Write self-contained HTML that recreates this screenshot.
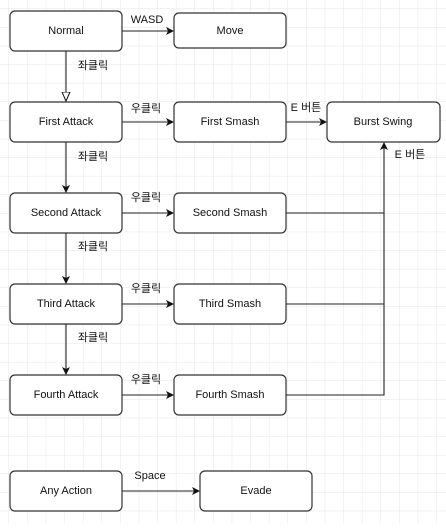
<!DOCTYPE html>
<html><head><meta charset="utf-8"><style>
body{margin:0;width:446px;height:523px;overflow:hidden;background:#fff;}
</style></head><body>
<svg width="446" height="523" xmlns="http://www.w3.org/2000/svg" font-family="Liberation Sans, Noto Sans CJK KR, sans-serif" font-size="11">
<defs>
<pattern id="g" width="18.6" height="18.6" patternUnits="userSpaceOnUse" x="9" y="9">
<path d="M18.6 0V18.6H0" fill="none" stroke="#e6e6e6" stroke-width="1"/>
</pattern>
<marker id="a" markerWidth="8" markerHeight="8" refX="7" refY="4" orient="auto" markerUnits="userSpaceOnUse"><path d="M0,0L8,4L0,8L2,4z" fill="#111"/></marker>
<marker id="o" markerWidth="10" markerHeight="10" refX="9" refY="5" orient="auto" markerUnits="userSpaceOnUse"><path d="M0,1L9,5L0,9z" fill="#fff" stroke="#111"/></marker>
</defs>
<rect width="446" height="523" fill="url(#g)"/>
<g fill="#fff" stroke="#333" stroke-width="1.2">
<rect x="10" y="11" width="112" height="40" rx="5"/>
<rect x="174" y="13" width="112" height="35" rx="5"/>
<rect x="10" y="102" width="112" height="40" rx="5"/>
<rect x="174" y="102" width="112" height="40" rx="5"/>
<rect x="327" y="102" width="113" height="40" rx="5"/>
<rect x="10" y="193" width="112" height="40" rx="5"/>
<rect x="174" y="193" width="112" height="40" rx="5"/>
<rect x="10" y="284" width="112" height="40" rx="5"/>
<rect x="174" y="284" width="112" height="40" rx="5"/>
<rect x="10" y="375" width="112" height="40" rx="5"/>
<rect x="174" y="375" width="112" height="40" rx="5"/>
<rect x="10" y="471" width="112" height="40" rx="5"/>
<rect x="200" y="471" width="112" height="40" rx="5"/>
</g>
<g stroke="#222" stroke-width="1.1" fill="none">
<path d="M122 31H173" marker-end="url(#a)"/>
<path d="M66 51V101" marker-end="url(#o)"/>
<path d="M122 122H173" marker-end="url(#a)"/>
<path d="M286 122H326" marker-end="url(#a)"/>
<path d="M66 142V192" marker-end="url(#a)"/>
<path d="M122 213H173" marker-end="url(#a)"/>
<path d="M66 233V283" marker-end="url(#a)"/>
<path d="M122 304H173" marker-end="url(#a)"/>
<path d="M66 324V374" marker-end="url(#a)"/>
<path d="M122 395H173" marker-end="url(#a)"/>
<path d="M122 491H199" marker-end="url(#a)"/>
<path d="M286 213H384M286 304H384M286 395H384V143" marker-end="url(#a)"/>
</g>
<g fill="#111" text-anchor="middle" dominant-baseline="central">
<text x="66" y="31">Normal</text>
<text x="230" y="31">Move</text>
<text x="66" y="122">First Attack</text>
<text x="230" y="122">First Smash</text>
<text x="383" y="122">Burst Swing</text>
<text x="66" y="213">Second Attack</text>
<text x="230" y="213">Second Smash</text>
<text x="66" y="304">Third Attack</text>
<text x="230" y="304">Third Smash</text>
<text x="66" y="395">Fourth Attack</text>
<text x="230" y="395">Fourth Smash</text>
<text x="66" y="491">Any Action</text>
<text x="256" y="491">Evade</text>
<text x="147" y="20">WASD</text>
<text x="93" y="66">좌클릭</text>
<text x="146" y="109">우클릭</text>
<text x="306" y="108">E 버튼</text>
<text x="410" y="155">E 버튼</text>
<text x="93" y="157">좌클릭</text>
<text x="146" y="198">우클릭</text>
<text x="93" y="247">좌클릭</text>
<text x="146" y="289">우클릭</text>
<text x="93" y="338">좌클릭</text>
<text x="146" y="380">우클릭</text>
<text x="150" y="476">Space</text>
</g>
</svg>
</body></html>
